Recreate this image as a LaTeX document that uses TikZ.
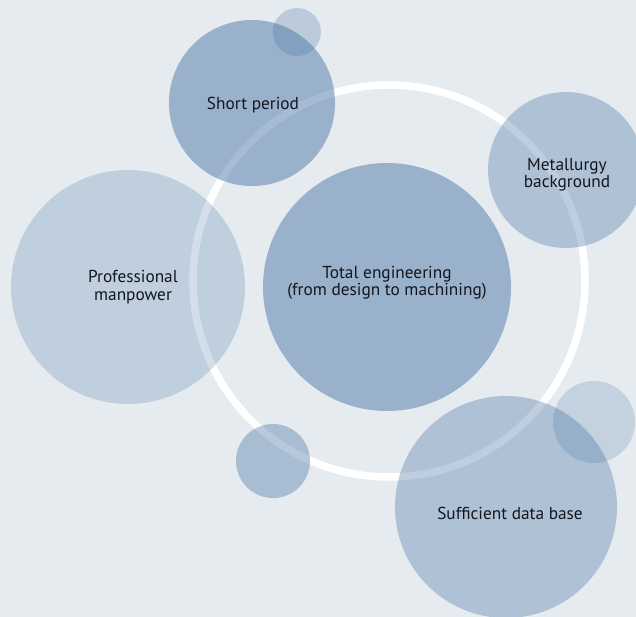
\documentclass[tikz,border=0pt]{standalone}
\usepackage{fontspec}
\setmainfont{PT Sans}
\definecolor{bg}{RGB}{230,235,239}
\definecolor{base}{RGB}{70,115,165}
\definecolor{txt}{RGB}{20,22,30}
\begin{document}
\begin{tikzpicture}[x=1pt,y=-1pt,
  bubble/.style={circle, inner sep=0pt, fill=base, draw=none},
  label/.style={inner sep=0pt, text=txt, align=center, font=\fontsize{17.3}{17.5}\selectfont},
  ring/.style={circle, inner sep=0pt, draw=white, line width=7.5pt, fill=none}]
\fill[bg] (0,0) rectangle (636,617);
\useasboundingbox (0,0) rectangle (636,617);
\begin{scope}
\clip (0,0) rectangle (636,617);
\node[ring, minimum size=392pt] (ringc) at (389,281) {};
\node[bubble, minimum size=248pt, fill opacity=0.48] (total) at (387,287) {};
\node[bubble, minimum size=166pt, fill opacity=0.48] (short) at (252,103) {};
\node[bubble, minimum size=48pt, fill opacity=0.26] (smalltop) at (297,32) {};
\node[bubble, minimum size=156pt, fill opacity=0.35] (metal) at (566,170) {};
\node[bubble, minimum size=234pt, fill opacity=0.23] (prof) at (128,287) {};
\node[bubble, minimum size=74pt, fill opacity=0.38] (smallbl) at (273,461) {};
\node[bubble, minimum size=222pt, fill opacity=0.35] (data) at (506,507) {};
\node[bubble, minimum size=82pt, fill opacity=0.21] (smallr) at (594,422) {};
\end{scope}
\node[label] (totalt) at (387,283) {Total engineering\\(from design to machining)};
\node[label] (shortt) at (253,105) {Short period};
\node[label] (metalt) at (567,175) {Metallurgy\\background};
\node[label] (proft) at (133,287) {Professional\\manpower};
\node[label] (datat) at (510,513) {Sufficient data base};
\end{tikzpicture}
\end{document}
